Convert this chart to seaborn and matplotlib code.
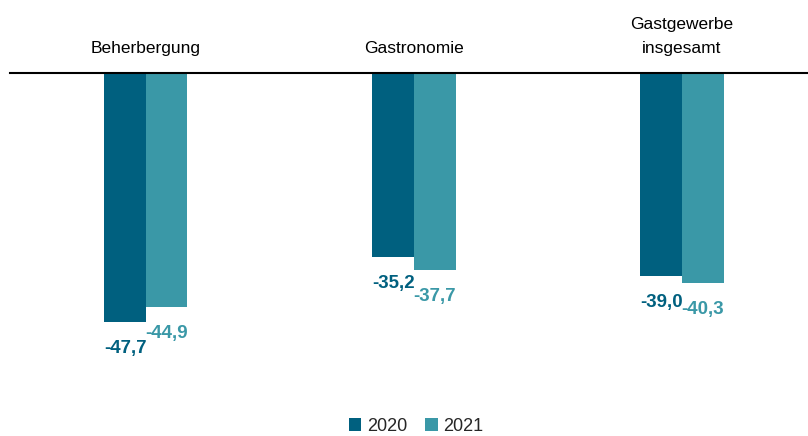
import matplotlib
matplotlib.use("Agg")
import matplotlib.pyplot as plt
import seaborn as sns
import pandas as pd
from matplotlib.patches import Patch

categories = ["Beherbergung", "Gastronomie", "Gastgewerbe\ninsgesamt"]
years = ["2020", "2021"]
values_2020 = [-47.7, -35.2, -39.0]
values_2021 = [-44.9, -37.7, -40.3]
colors = {"2020": "#00607F", "2021": "#3A98A7"}

df = pd.DataFrame({
    "Kategorie": categories * 2,
    "Jahr": ["2020"] * 3 + ["2021"] * 3,
    "Wert": values_2020 + values_2021,
})

sns.set_theme(style="white")
plt.rcParams["font.family"] = ["Liberation Sans", "DejaVu Sans"]

fig = plt.figure(figsize=(8.08, 4.36), dpi=100)
ax = fig.add_axes([0.0124, 0.1147, 0.9876, 0.7179])

sns.barplot(data=df, x="Kategorie", y="Wert", hue="Jahr", order=categories,
            hue_order=years, palette=colors, width=0.31, gap=0,
            saturation=1, ax=ax, legend=False, edgecolor="none")

for cont, yr in zip(ax.containers, years):
    labels = [f"{b.get_height():.1f}".replace(".", ",") for b in cont]
    ax.bar_label(cont, labels=labels, padding=13, color=colors[yr],
                 fontsize=13.5, fontweight="bold")

ax.set_xlim(-0.507, 2.47)
ax.set_ylim(-60, 0)
ax.xaxis.tick_top()
ax.tick_params(axis="x", length=0, pad=12, labelsize=12.5, colors="black")
ax.set_yticks([])
ax.set_xlabel("")
ax.set_ylabel("")
for s in ["left", "right", "bottom"]:
    ax.spines[s].set_visible(False)
ax.spines["top"].set_color("black")
ax.spines["top"].set_linewidth(1.5)

handles = [Patch(facecolor=colors[y], edgecolor="none", label=y) for y in years]
fig.legend(handles=handles, loc="lower center", bbox_to_anchor=(0.515, -0.035),
           ncol=2, frameon=False, fontsize=13, handlelength=0.7,
           handleheight=0.7, handletextpad=0.3, columnspacing=1.0)

fig.canvas.draw()
for tick in ax.xaxis.get_major_ticks():
    tick.label1.set_linespacing(1.75)
    tick.label2.set_linespacing(1.75)

fig.savefig("out.png", dpi=100, facecolor="white")
